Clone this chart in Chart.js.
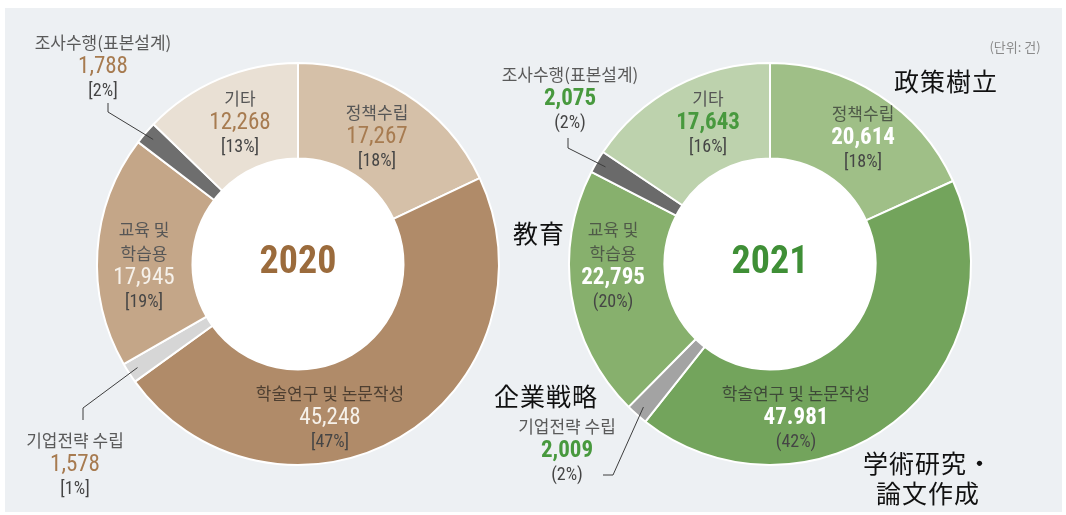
<!DOCTYPE html>
<html>
<head>
<meta charset="utf-8">
<script src="https://cdn.jsdelivr.net/npm/chart.js@4.4.0/dist/chart.umd.min.js"></script>
<style>
  body { margin: 0; background: #fff; width: 1066px; height: 515px; position: relative; overflow: hidden; }
  #panel { position: absolute; left: 5px; top: 8px; width: 1057px; height: 504px; background: #edf0f3; }
  canvas { position: absolute; left: 0; top: 0; }
  .note { position: absolute; transform: translate(-50%, -50%); white-space: nowrap; text-align: center;
          font-family: "Noto Sans CJK JP", sans-serif; font-size: 25px; color: #111; letter-spacing: 1px; line-height: 30px; }
  .unit { font-family: "Noto Sans CJK KR", sans-serif; font-size: 13px; color: #8a8a8a; letter-spacing: 0; }
</style>
</head>
<body>
<div id="panel"></div>
<canvas id="chart2020" width="1066" height="515"></canvas>
<canvas id="chart2021" width="1066" height="515"></canvas>
<div class="note unit" style="left:1015px; top:47px;">(단위: 건)</div>
<div class="note" style="left:946px; top:80px;">政策樹立</div>
<div class="note" style="left:539px; top:232px;">教育</div>
<div class="note" style="left:546px; top:395px;">企業戦略</div>
<div class="note" style="left:928px; top:477px;">学術研究・<br>論文作成</div>

<script>
// Slices run clockwise from 12 o'clock
const categories = ['정책수립', '학술연구 및 논문작성', '기업전략 수립', '교육 및\n학습용', '조사수행(표본설계)', '기타'];
const values2020 = [17267, 45248, 1578, 17945, 1788, 12268];
const values2021 = [20614, 47981, 2009, 22795, 2075, 17643];
// numbers and shares as printed on the picture
const valueText2020 = ['17,267', '45,248', '1,578', '17,945', '1,788', '12,268'];
const valueText2021 = ['20,614', '47.981', '2,009', '22,795', '2,075', '17,643'];
const pctText2020 = ['[18%]', '[47%]', '[1%]', '[19%]', '[2%]', '[13%]'];
const pctText2021 = ['[18%]', '(42%)', '(2%)', '(20%)', '(2%)', '[16%]'];

const NUM_FONT = '"Liberation Sans Narrow", "Roboto Condensed", "DejaVu Sans Condensed", Roboto, sans-serif';
const KR_FONT = '"Noto Sans CJK KR", sans-serif';

// Text around the slices: white hole, year in the middle, labels and leader lines
const sliceLabels = {
  id: 'sliceLabels',
  beforeDatasetsDraw(chart) {
    const arc = chart.getDatasetMeta(0).data[0];
    const ctx = chart.ctx;
    ctx.save();
    ctx.fillStyle = '#ffffff';
    ctx.beginPath();
    ctx.arc(arc.x, arc.y, arc.innerRadius + 1, 0, Math.PI * 2);
    ctx.fill();
    ctx.restore();
  },
  afterDatasetsDraw(chart, args, opts) {
    const ctx = chart.ctx;
    const arcs = chart.getDatasetMeta(0).data;
    ctx.save();
    ctx.textAlign = 'center';
    ctx.textBaseline = 'middle';

    // year in the centre
    ctx.font = 'bold 38px ' + NUM_FONT;
    ctx.fillStyle = opts.yearColor;
    ctx.fillText(opts.year, arcs[0].x, arcs[0].y - 1);

    categories.forEach((name, i) => {
      const spot = opts.spots[i];
      const nameLines = name.split('\n');
      const lines = nameLines.length + 2;
      let y = spot.y - (lines - 1) * 12;

      ctx.font = '17px ' + KR_FONT;
      ctx.fillStyle = opts.nameColors[i];
      nameLines.forEach(t => { ctx.fillText(t, spot.x, y); y += 24; });

      ctx.font = (opts.boldValues ? 'bold ' : '') + '23px ' + NUM_FONT;
      ctx.fillStyle = opts.valueColors[i];
      ctx.fillText(opts.valueText[i], spot.x, y);
      y += 24;

      ctx.font = '18px ' + NUM_FONT;
      ctx.fillStyle = '#454545';
      ctx.fillText(opts.pctText[i], spot.x, y);

      const leader = opts.leaders[i];
      if (leader) {
        const a = arcs[i];
        const mid = (a.startAngle + a.endAngle) / 2;
        const r = a.outerRadius - 10;
        ctx.strokeStyle = '#3d3d3d';
        ctx.lineWidth = 1;
        ctx.beginPath();
        ctx.moveTo(a.x + r * Math.cos(mid), a.y + r * Math.sin(mid));
        leader.forEach(p => ctx.lineTo(p[0], p[1]));
        ctx.stroke();
      }
    });
    ctx.restore();
  }
};

function makeDonut(id, values, colors, padding, labelOpts) {
  return new Chart(document.getElementById(id), {
    type: 'doughnut',
    data: {
      labels: categories,
      datasets: [{
        data: values,
        backgroundColor: colors,
        borderColor: '#ffffff',
        borderWidth: 2
      }]
    },
    options: {
      responsive: false,
      animation: false,
      devicePixelRatio: 1,
      cutout: '52.5%',
      layout: { padding: padding },
      plugins: {
        legend: { display: false },
        tooltip: { enabled: false },
        sliceLabels: labelOpts
      }
    },
    plugins: [sliceLabels]
  });
}

const brown = '#a77b50';
const green = '#48993e';

makeDonut('chart2020', values2020,
  ['#d5c0a8', '#b08b69', '#d6d6d6', '#c4a688', '#6e6e6e', '#e9e0d4'],
  { left: 96, top: 62, right: 566, bottom: 49 },
  {
    year: '2020', yearColor: '#9b6b3c', boldValues: false,
    valueText: valueText2020, pctText: pctText2020,
    valueColors: [brown, '#f6f1ea', brown, '#f6f1ea', brown, brown],
    nameColors: ['#565656', '#4e3f31', '#5a5a5a', '#565656', '#5a5a5a', '#565656'],
    spots: [
      { x: 377, y: 137 }, { x: 330, y: 418 }, { x: 75, y: 465 },
      { x: 144, y: 266 }, { x: 103, y: 67 }, { x: 240, y: 123 }
    ],
    leaders: { 2: [[83, 408], [83, 420]], 4: [[108, 112], [108, 103]] }
  });

makeDonut('chart2021', values2021,
  ['#9fbf87', '#73a45c', '#a3a3a3', '#87b06d', '#6a6a6a', '#bdd2ad'],
  { left: 568, top: 62, right: 94, bottom: 49 },
  {
    year: '2021', yearColor: '#3f8f36', boldValues: true,
    valueText: valueText2021, pctText: pctText2021,
    valueColors: ['#ffffff', '#ffffff', green, '#ffffff', green, green],
    nameColors: ['#4f5a48', '#3e4a38', '#5a5a5a', '#4f5a48', '#5a5a5a', '#565656'],
    spots: [
      { x: 863, y: 138 }, { x: 796, y: 418 }, { x: 567, y: 451 },
      { x: 613, y: 266 }, { x: 570, y: 99 }, { x: 708, y: 123 }
    ],
    leaders: { 2: [[613, 475], [603, 475]], 4: [[568, 148], [568, 138]] }
  });
</script>
</body>
</html>
